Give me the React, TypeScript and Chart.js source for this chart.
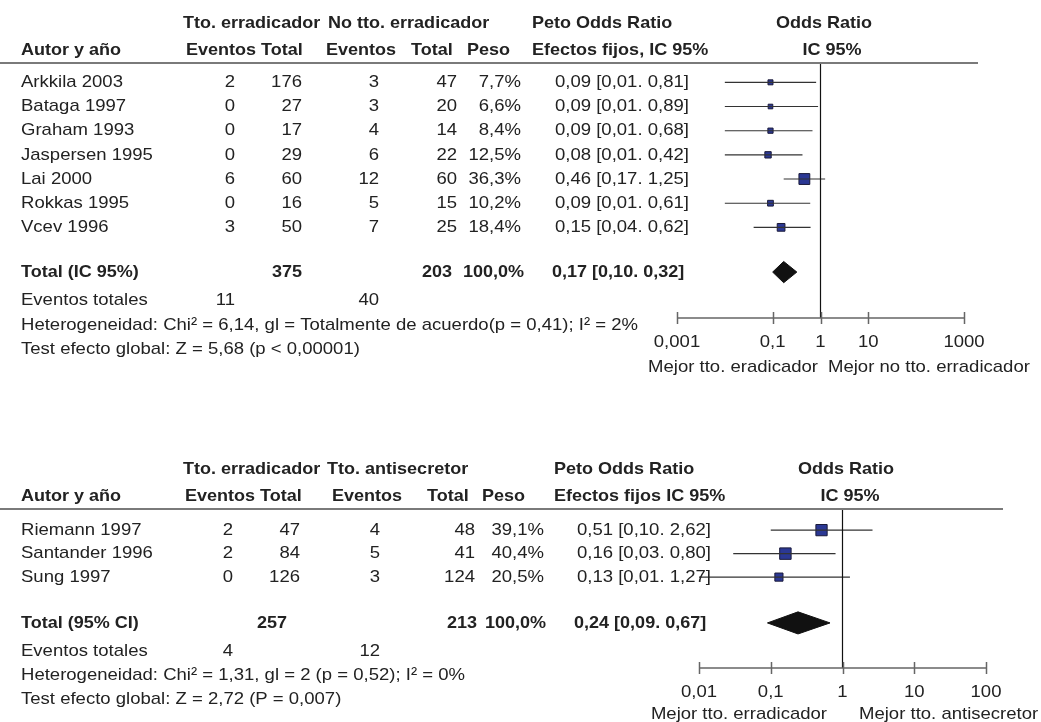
import React, { useEffect, useRef } from 'react';
import { Chart, registerables } from 'chart.js';

Chart.register(...registerables);

// ---------- Top meta-analysis: erradicador vs no erradicador ----------
const studiesA = ['Arkkila 2003', 'Bataga 1997', 'Graham 1993', 'Jaspersen 1995', 'Lai 2000', 'Rokkas 1995', 'Vcev 1996'];
const eventsTrtA = [2, 0, 0, 0, 6, 0, 3];
const totalTrtA = [176, 27, 17, 29, 60, 16, 50];
const eventsCtlA = [3, 3, 4, 6, 12, 5, 7];
const totalCtlA = [47, 20, 14, 22, 60, 15, 25];
const weightA = [7.7, 6.6, 8.4, 12.5, 36.3, 10.2, 18.4];
const orA = [0.09, 0.09, 0.09, 0.08, 0.46, 0.09, 0.15];
const loA = [0.01, 0.01, 0.01, 0.01, 0.17, 0.01, 0.04];
const hiA = [0.81, 0.89, 0.68, 0.42, 1.25, 0.61, 0.62];
const pooledA = [0.17, 0.10, 0.32];
const ticksA = [0.001, 0.1, 1, 10, 1000];

// ---------- Bottom meta-analysis: erradicador vs antisecretor ----------
const studiesB = ['Riemann 1997', 'Santander 1996', 'Sung 1997'];
const eventsTrtB = [2, 2, 0];
const totalTrtB = [47, 84, 126];
const eventsCtlB = [4, 5, 3];
const totalCtlB = [48, 41, 124];
const weightB = [39.1, 40.4, 20.5];
const orB = [0.51, 0.16, 0.13];
const loB = [0.10, 0.03, 0.01];
const hiB = [2.62, 0.80, 1.27];
const pooledB = [0.24, 0.09, 0.67];
const ticksB = [0.01, 0.1, 1, 10, 100];

const FONT = '"Liberation Sans", Arial, Helvetica, sans-serif';
const FS = 17;
const SX = 1.09;
const SXB = 1.06;
const TXT = '#222';

const fmt = (v: number, d: number) => v.toFixed(d).replace('.', ',');
const tickFmt = (v: number) => String(v).replace('.', ',');
const sum = (a: number[]) => a.reduce((s, v) => s + v, 0);

function drawText(ctx: CanvasRenderingContext2D, s: string, x: number, y: number, align: string, bold = false) {
  ctx.save();
  ctx.font = `${bold ? 'bold ' : ''}${FS}px ${FONT}`;
  ctx.textBaseline = 'middle';
  ctx.fillStyle = TXT;
  const sx = bold ? SXB : SX;
  const w = ctx.measureText(s).width * sx;
  const x0 = align === 'left' ? x : align === 'right' ? x - w : x - w / 2;
  ctx.translate(x0, y);
  ctx.scale(sx, 1);
  ctx.textAlign = 'left';
  ctx.fillText(s, 0, 0);
  ctx.restore();
}

type HeaderItem = { t: string; x: number; a: string };

interface Section {
  height: number;
  pad: { left: number; right: number; top: number; bottom: number };
  xMin: number;
  xMax: number;
  yMin: number;
  yMax: number;
  totalRow: number;
  dh: number;
  studies: string[];
  evT: number[];
  totT: number[];
  evC: number[];
  totC: number[];
  weight: number[];
  or: number[];
  lo: number[];
  hi: number[];
  pooled: number[];
  ticks: number[];
  cols: number[];
  totalCols: number[];
  header1: HeaderItem[];
  header2: HeaderItem[];
  ruleRight: number;
  totalLabel: string;
  het: string;
  test: string;
  footOffsets: number[];
  betterLeft: string;
  betterRight: string;
  betterLeftX: number;
  betterRightX: number;
  labelDy: number;
  betterDy: number;
}

const sectionA: Section = {
  height: 390,
  pad: { left: 677, right: 77, top: 63, bottom: 72 },
  xMin: 0.001,
  xMax: 1000,
  yMin: -0.8,
  yMax: 9.75,
  totalRow: 7.85,
  dh: 0.44,
  studies: studiesA,
  evT: eventsTrtA,
  totT: totalTrtA,
  evC: eventsCtlA,
  totC: totalCtlA,
  weight: weightA,
  or: orA,
  lo: loA,
  hi: hiA,
  pooled: pooledA,
  ticks: ticksA,
  cols: [21, 235, 302, 379, 457, 521, 555],
  totalCols: [302, 452, 524, 552],
  header1: [
    { t: 'Tto. erradicador', x: 183, a: 'left' },
    { t: 'No tto. erradicador', x: 328, a: 'left' },
    { t: 'Peto Odds Ratio', x: 532, a: 'left' },
    { t: 'Odds Ratio', x: 824, a: 'center' },
  ],
  header2: [
    { t: 'Autor y año', x: 21, a: 'left' },
    { t: 'Eventos', x: 186, a: 'left' },
    { t: 'Total', x: 261, a: 'left' },
    { t: 'Eventos', x: 326, a: 'left' },
    { t: 'Total', x: 411, a: 'left' },
    { t: 'Peso', x: 467, a: 'left' },
    { t: 'Efectos fijos, IC 95%', x: 532, a: 'left' },
    { t: 'IC 95%', x: 832, a: 'center' },
  ],
  ruleRight: 978,
  totalLabel: 'Total (IC 95%)',
  het: 'Heterogeneidad: Chi² = 6,14, gl = Totalmente de acuerdo(p = 0,41); I² = 2%',
  test: 'Test efecto global: Z = 5,68 (p < 0,00001)',
  footOffsets: [28, 53, 77],
  betterLeft: 'Mejor tto. eradicador',
  betterRight: 'Mejor no tto. erradicador',
  betterLeftX: 818,
  betterRightX: 828,
  labelDy: 24,
  betterDy: 49,
};

const sectionB: Section = {
  height: 332,
  pad: { left: 699, right: 55, top: 119, bottom: 54 },
  xMin: 0.01,
  xMax: 100,
  yMin: -0.9,
  yMax: 5.87,
  totalRow: 3.95,
  dh: 0.47,
  studies: studiesB,
  evT: eventsTrtB,
  totT: totalTrtB,
  evC: eventsCtlB,
  totC: totalCtlB,
  weight: weightB,
  or: orB,
  lo: loB,
  hi: hiB,
  pooled: pooledB,
  ticks: ticksB,
  cols: [21, 233, 300, 380, 475, 544, 577],
  totalCols: [287, 477, 546, 574],
  header1: [
    { t: 'Tto. erradicador', x: 183, a: 'left' },
    { t: 'Tto. antisecretor', x: 327, a: 'left' },
    { t: 'Peto Odds Ratio', x: 554, a: 'left' },
    { t: 'Odds Ratio', x: 846, a: 'center' },
  ],
  header2: [
    { t: 'Autor y año', x: 21, a: 'left' },
    { t: 'Eventos', x: 185, a: 'left' },
    { t: 'Total', x: 260, a: 'left' },
    { t: 'Eventos', x: 332, a: 'left' },
    { t: 'Total', x: 427, a: 'left' },
    { t: 'Peso', x: 482, a: 'left' },
    { t: 'Efectos fijos IC 95%', x: 554, a: 'left' },
    { t: 'IC 95%', x: 850, a: 'center' },
  ],
  ruleRight: 1003,
  totalLabel: 'Total (95% CI)',
  het: 'Heterogeneidad: Chi² = 1,31, gl = 2 (p = 0,52); I² = 0%',
  test: 'Test efecto global: Z = 2,72 (P = 0,007)',
  footOffsets: [28, 52, 76],
  betterLeft: 'Mejor tto. erradicador',
  betterRight: 'Mejor tto. antisecretor',
  betterLeftX: 827,
  betterRightX: 859,
  labelDy: 24,
  betterDy: 46,
};

function makeChart(canvas: HTMLCanvasElement, s: Section) {
  const datasets: any[] = [];
  // line of no effect (OR = 1)
  datasets.push({
    label: 'ref',
    data: [{ x: 1, y: s.yMin }, { x: 1, y: s.yMax }],
    showLine: true,
    borderColor: '#111',
    borderWidth: 1.2,
    pointRadius: 0,
  });
  // confidence intervals
  s.studies.forEach((name, i) => {
    datasets.push({
      label: name,
      data: [{ x: s.lo[i], y: i }, { x: s.hi[i], y: i }],
      showLine: true,
      borderColor: '#333',
      borderWidth: 1.1,
      pointRadius: 0,
    });
  });
  // point estimates (square size by weight)
  datasets.push({
    label: 'OR',
    data: s.or.map((v, i) => ({ x: v, y: i })),
    showLine: false,
    pointStyle: 'rect',
    pointRadius: s.weight.map((w) => (1.8 * Math.sqrt(w)) / Math.SQRT2),
    backgroundColor: '#2b3894',
    borderColor: '#1a1a3a',
    borderWidth: 1,
  });
  // pooled diamond
  const [pe, plo, phi] = s.pooled;
  const r = s.totalRow;
  datasets.push({
    label: 'pooled',
    data: [
      { x: plo, y: r },
      { x: pe, y: r - s.dh },
      { x: phi, y: r },
      { x: pe, y: r + s.dh },
      { x: plo, y: r },
    ],
    showLine: true,
    fill: 'shape',
    backgroundColor: '#111',
    borderColor: '#111',
    borderWidth: 1,
    pointRadius: 0,
    tension: 0,
  });

  const tablePlugin = {
    id: 'forestTable',
    afterDatasetsDraw(chart: any) {
      const ctx: CanvasRenderingContext2D = chart.ctx;
      const ys = chart.scales.y;
      const xs = chart.scales.x;
      const top = chart.chartArea.top;
      const bottom = chart.chartArea.bottom;
      // header
      s.header1.forEach((h) => drawText(ctx, h.t, h.x, top - 40, h.a, true));
      s.header2.forEach((h) => drawText(ctx, h.t, h.x, top - 13, h.a, true));
      // rule
      ctx.save();
      ctx.strokeStyle = '#7a7a7a';
      ctx.lineWidth = 2;
      ctx.beginPath();
      ctx.moveTo(0, top);
      ctx.lineTo(s.ruleRight, top);
      ctx.stroke();
      ctx.restore();
      // study rows
      const c = s.cols;
      s.studies.forEach((name, i) => {
        const y = ys.getPixelForValue(i);
        drawText(ctx, name, c[0], y, 'left');
        drawText(ctx, String(s.evT[i]), c[1], y, 'right');
        drawText(ctx, String(s.totT[i]), c[2], y, 'right');
        drawText(ctx, String(s.evC[i]), c[3], y, 'right');
        drawText(ctx, String(s.totC[i]), c[4], y, 'right');
        drawText(ctx, `${fmt(s.weight[i], 1)}%`, c[5], y, 'right');
        drawText(ctx, `${fmt(s.or[i], 2)} [${fmt(s.lo[i], 2)}. ${fmt(s.hi[i], 2)}]`, c[6], y, 'left');
      });
      // total row
      const ty = ys.getPixelForValue(s.totalRow);
      const tc = s.totalCols;
      drawText(ctx, s.totalLabel, c[0], ty, 'left', true);
      drawText(ctx, String(sum(s.totT)), tc[0], ty, 'right', true);
      drawText(ctx, String(sum(s.totC)), tc[1], ty, 'right', true);
      drawText(ctx, '100,0%', tc[2], ty, 'right', true);
      drawText(ctx, `${fmt(s.pooled[0], 2)} [${fmt(s.pooled[1], 2)}. ${fmt(s.pooled[2], 2)}]`, tc[3], ty, 'left', true);
      // footnotes
      const [o1, o2, o3] = s.footOffsets;
      drawText(ctx, 'Eventos totales', c[0], ty + o1, 'left');
      drawText(ctx, String(sum(s.evT)), c[1], ty + o1, 'right');
      drawText(ctx, String(sum(s.evC)), c[3], ty + o1, 'right');
      drawText(ctx, s.het, c[0], ty + o2, 'left');
      drawText(ctx, s.test, c[0], ty + o3, 'left');

      // x axis (log scale)
      ctx.save();
      ctx.strokeStyle = '#666';
      ctx.lineWidth = 1.5;
      ctx.beginPath();
      ctx.moveTo(xs.getPixelForValue(s.xMin), bottom);
      ctx.lineTo(xs.getPixelForValue(s.xMax), bottom);
      s.ticks.forEach((t) => {
        const px = Math.round(xs.getPixelForValue(t)) + 0.5;
        ctx.moveTo(px, bottom - 6);
        ctx.lineTo(px, bottom + 6);
      });
      ctx.stroke();
      ctx.restore();
      s.ticks.forEach((t) => {
        drawText(ctx, tickFmt(t), xs.getPixelForValue(t), bottom + s.labelDy, 'center');
      });
      drawText(ctx, s.betterLeft, s.betterLeftX, bottom + s.betterDy, 'right');
      drawText(ctx, s.betterRight, s.betterRightX, bottom + s.betterDy, 'left');
    },
  };

  return new Chart(canvas, {
    type: 'scatter',
    data: { datasets },
    options: {
      responsive: false,
      animation: false,
      events: [],
      layout: { padding: s.pad },
      plugins: {
        legend: { display: false },
        tooltip: { enabled: false },
      },
      scales: {
        x: { type: 'logarithmic', min: s.xMin, max: s.xMax, display: false },
        y: { type: 'linear', min: s.yMin, max: s.yMax, reverse: true, display: false },
      },
    } as any,
    plugins: [tablePlugin],
  });
}

function ForestCanvas({ section }: { section: Section }) {
  const ref = useRef<HTMLCanvasElement | null>(null);
  useEffect(() => {
    if (!ref.current) return;
    const chart = makeChart(ref.current, section);
    return () => chart.destroy();
  }, [section]);
  return <canvas ref={ref} width={1041} height={section.height} style={{ display: 'block', width: 1041, height: section.height }} />;
}

export default function App() {
  return (
    <div style={{ position: 'fixed', left: 0, top: 0, width: 1041, height: 722, background: '#fff' }}>
      <ForestCanvas section={sectionA} />
      <ForestCanvas section={sectionB} />
    </div>
  );
}
